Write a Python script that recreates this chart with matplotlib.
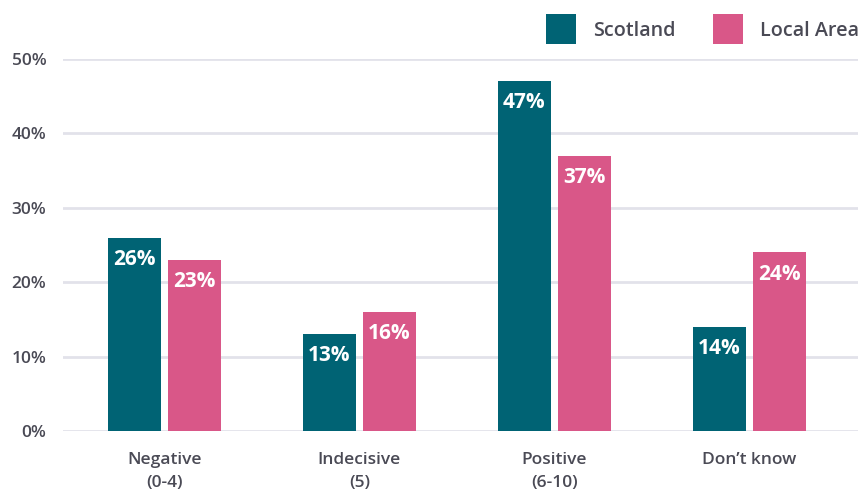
import matplotlib
matplotlib.use("Agg")
import matplotlib.pyplot as plt
import numpy as np

plt.rcParams['font.family'] = ['Open Sans', 'DejaVu Sans']

# survey results, percent of respondents
categories = ["Negative\n(0-4)", "Indecisive\n(5)", "Positive\n(6-10)", "Don\u2019t know"]
scotland = [26, 13, 47, 14]
local_area = [23, 16, 37, 24]
yticks = [0, 10, 20, 30, 40, 50]

teal = "#006374"
pink = "#D95788"
text_col = "#4A4A55"
grid_col = "#E2E2EA"

fig = plt.figure(figsize=(8.58, 4.91), dpi=100)
ax = fig.add_axes([63 / 858, 60 / 491, 795 / 858, 372 / 491])

x = np.arange(len(categories))
w = 0.272
off = 0.154
b1 = ax.bar(x - off, scotland, w, color=teal, zorder=3, label="Scotland")
b2 = ax.bar(x + off, local_area, w, color=pink, zorder=3, label="Local Area")

for bars, vals in ((b1, scotland), (b2, local_area)):
    for r, v in zip(bars, vals):
        ax.annotate(f"{v}%", (r.get_x() + r.get_width() / 2, v),
                    xytext=(0, -19.5), textcoords="offset points",
                    ha="center", va="baseline", color="white",
                    fontsize=15, fontweight="bold", zorder=4)

ax.set_ylim(0, 50)
ax.set_xlim(-0.52, 3.557)
ax.set_yticks(yticks)
ax.set_yticklabels([f"{t}%" for t in yticks])
ax.set_xticks(x)
ax.set_xticklabels(categories, linespacing=1.6)
ax.yaxis.grid(True, color=grid_col, linewidth=2, zorder=0)
ax.set_axisbelow(True)
for s in ax.spines.values():
    s.set_visible(False)
ax.tick_params(axis="y", length=0, pad=12, labelsize=12.5, labelcolor=text_col)
ax.tick_params(axis="x", length=0, pad=15, labelsize=12.5, labelcolor=text_col)
for lbl in ax.get_yticklabels() + ax.get_xticklabels():
    lbl.set_fontweight(600)

leg = fig.legend(handles=[b1, b2], loc="upper right", bbox_to_anchor=(1.008, 0.983),
                 ncol=2, frameon=False, fontsize=14.2,
                 handlelength=1.5, handleheight=1.97, handletextpad=0.86,
                 columnspacing=1.93, borderaxespad=0.0, borderpad=0.3)
for t in leg.get_texts():
    t.set_color(text_col)
    t.set_fontweight(600)

fig.savefig("out.png", dpi=100)
